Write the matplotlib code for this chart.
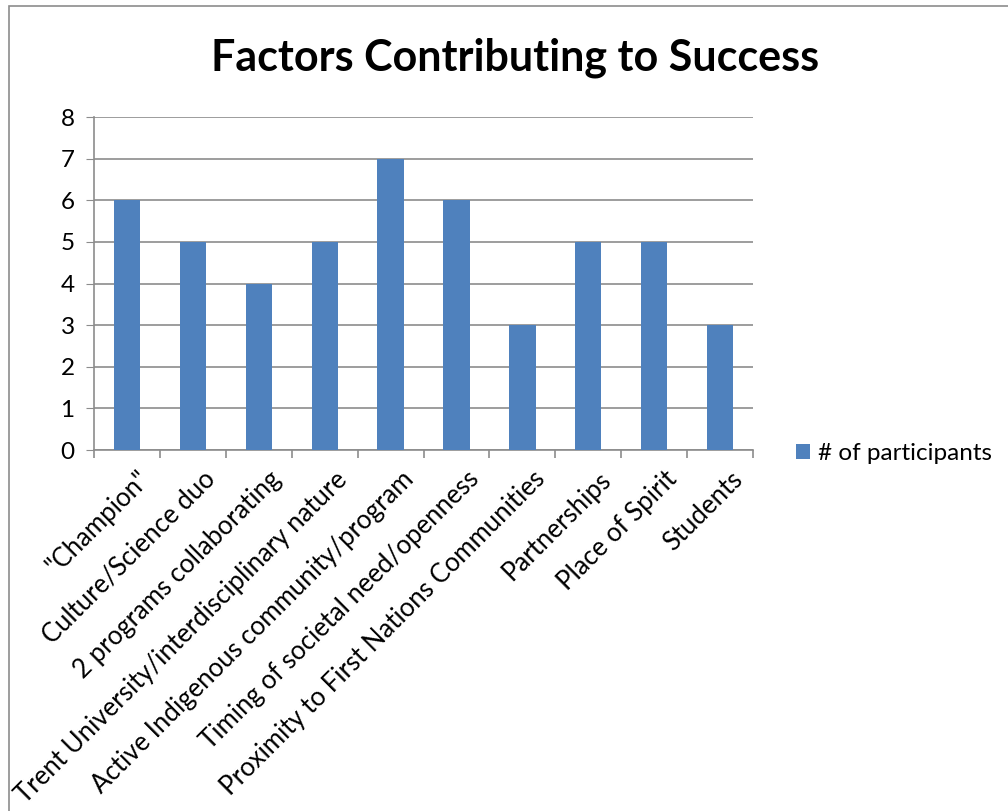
import matplotlib.pyplot as plt
from matplotlib.patches import Rectangle

plt.rcParams['font.family'] = ['Lato', 'DejaVu Sans']

# data
factors = ['"Champion"', 'Culture/Science duo', '2 programs collaborating',
           'Trent University/interdisciplinary nature',
           'Active Indigenous community/program',
           'Timing of societal need/openness',
           'Proximity to First Nations Communities',
           'Partnerships', 'Place of Spirit', 'Students']
participants = [6, 5, 4, 5, 7, 6, 3, 5, 5, 3]
series_name = '# of participants'

bar_color = '#4F81BD'
grid_color = '#8C8C8C'

fig = plt.figure(figsize=(10.08, 8.11), dpi=100)
ax = fig.add_axes([0.0933, 0.4451, 0.6538, 0.4106])

x = list(range(len(factors)))
bars = ax.bar(x, participants, width=0.4, color=bar_color, zorder=3, label=series_name)

ax.set_xlim(-0.5, len(factors) - 0.5)
ax.set_ylim(0, 8)
ax.set_yticks(range(0, 9))
ax.yaxis.grid(True, color=grid_color, linewidth=1.2, zorder=0)
ax.tick_params(axis='y', length=6, color=grid_color, labelsize=17.5, pad=8)

# category boundary ticks on x
ax.set_xticks([i - 0.5 for i in range(len(factors) + 1)], minor=False)
ax.set_xticklabels([])
ax.set_xticks([i + 0.15 for i in x], minor=True)
ax.set_xticklabels(factors, minor=True, rotation=45, ha='right',
                   rotation_mode='anchor', fontsize=18.5)
ax.tick_params(axis='x', which='major', length=6, color=grid_color, width=1.2)
ax.tick_params(axis='x', which='minor', length=0, pad=12)

for s in ['top', 'right']:
    ax.spines[s].set_visible(False)
for s in ['left', 'bottom']:
    ax.spines[s].set_color(grid_color)
    ax.spines[s].set_linewidth(1.2)

fig.text(0.511, 0.929, 'Factors Contributing to Success', ha='center', va='center',
         fontsize=31, fontweight='bold')

ax.legend(loc='center left', bbox_to_anchor=(1.05, -0.01), frameon=False,
          fontsize=17.5, handlelength=0.6, handleheight=0.6, handletextpad=0.3,
          borderaxespad=0)

# outer chart border
fig.patches.append(Rectangle((9 / 1008, -0.1), 1.2, 1 - 6 / 811 + 0.1,
                             transform=fig.transFigure, fill=False,
                             edgecolor='#8C8C8C', linewidth=1.2))

fig.savefig('out.png', dpi=100)
